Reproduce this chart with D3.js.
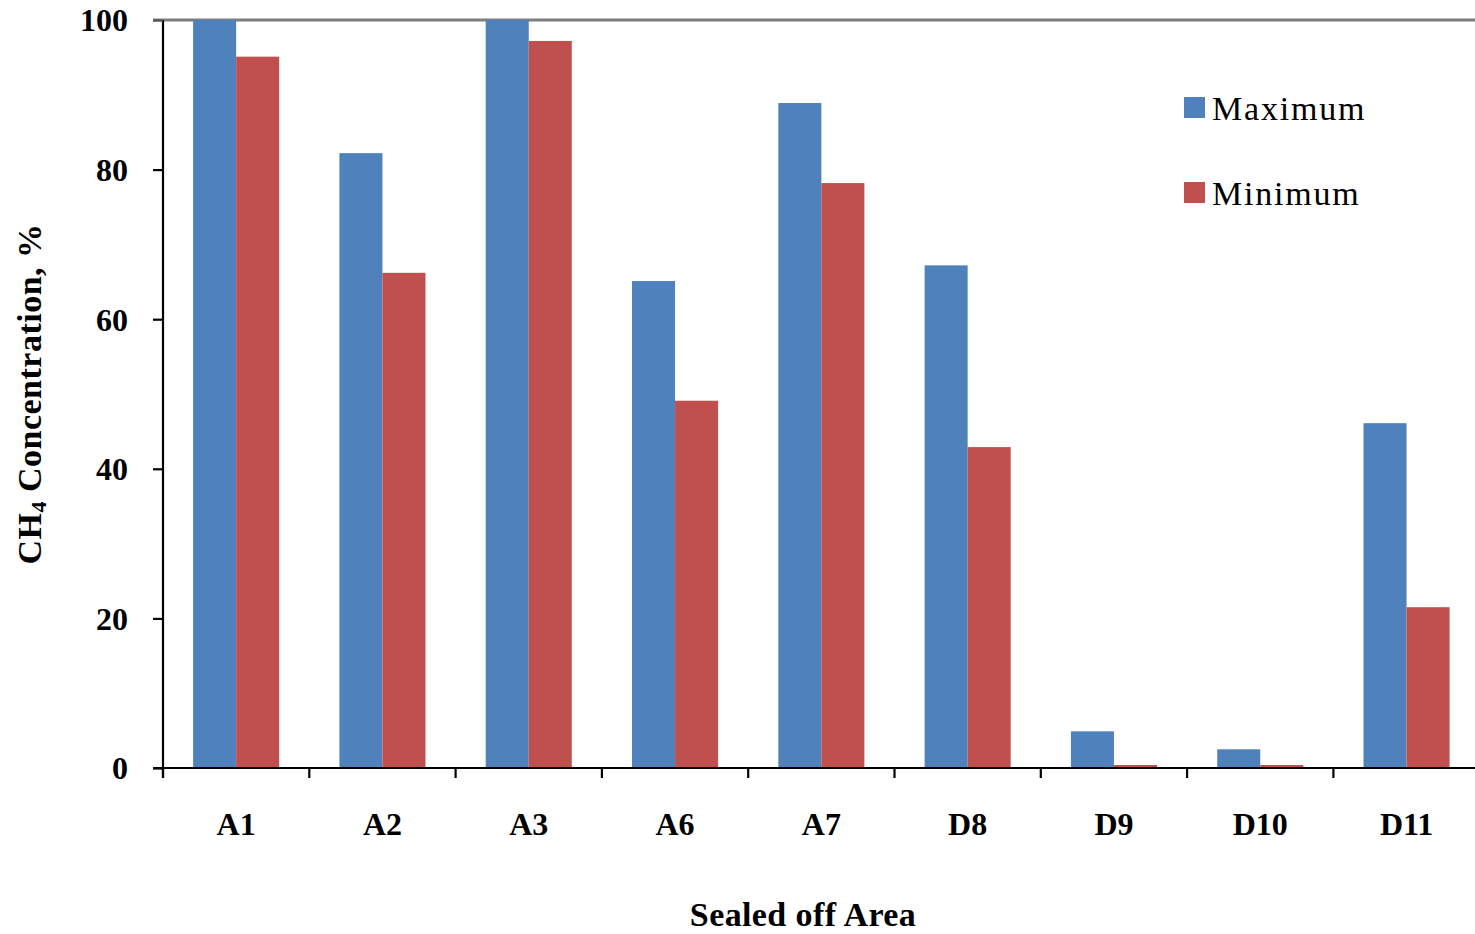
<!DOCTYPE html>
<html>
<head>
<meta charset="utf-8">
<script src="https://cdn.jsdelivr.net/npm/d3@7"></script>
<style>
  html, body { margin: 0; padding: 0; background: #fff; }
  svg { display: block; font-family: "Liberation Serif", "Times New Roman", serif; }
</style>
</head>
<body>
<svg id="chart" width="1475" height="934"></svg>
<script>
const categories = ["A1", "A2", "A3", "A6", "A7", "D8", "D9", "D10", "D11"];
const seriesNames = ["Maximum", "Minimum"];
const maximumValues = [100, 82.2, 100, 65.1, 88.9, 67.2, 4.9, 2.5, 46.1];
const minimumValues = [95.1, 66.2, 97.2, 49.1, 78.2, 42.9, 0.4, 0.4, 21.5];
const yTicks = [0, 20, 40, 60, 80, 100];
const colors = { Maximum: "#4F81BD", Minimum: "#C0504D" };

(function () {
const svg = d3.select("#chart");
const mLeft = 163, mTop = 20, mBottom = 768;
const step = 146.3;
const mRight = mLeft + step * categories.length;

const x0 = d3.scaleBand().domain(categories).range([mLeft, mRight]).paddingInner(0).paddingOuter(0);
const x1 = d3.scaleBand().domain(seriesNames).range([0, x0.bandwidth()]).paddingInner(0).paddingOuter(0.70);
const y = d3.scaleLinear().domain([0, 100]).range([mBottom, mTop]);

const data = categories.map((c, i) => ({
  cat: c,
  values: [
    { key: "Maximum", value: maximumValues[i] },
    { key: "Minimum", value: minimumValues[i] }
  ]
}));

// top gray line at 100
svg.append("line")
  .attr("x1", mLeft - 10).attr("x2", 1475)
  .attr("y1", y(100)).attr("y2", y(100))
  .attr("stroke", "#7f7f7f").attr("stroke-width", 3);

// bars
const g = svg.append("g");
g.selectAll("g.cat").data(data).join("g")
  .attr("class", "cat")
  .attr("transform", d => `translate(${x0(d.cat)},0)`)
  .selectAll("rect").data(d => d.values).join("rect")
  .attr("x", d => x1(d.key))
  .attr("width", x1.bandwidth())
  .attr("y", d => y(d.value))
  .attr("height", d => mBottom - y(d.value))
  .attr("fill", d => colors[d.key]);

// y axis
const yAxis = d3.axisLeft(y).tickValues(yTicks).tickSize(10).tickPadding(25).tickFormat(d3.format("d"));
const ya = svg.append("g").attr("transform", `translate(${mLeft},0)`).call(yAxis);
ya.select(".domain").attr("stroke", "#000").attr("stroke-width", 2.2).attr("d", `M0,${mTop}V${mBottom + 10}`);
ya.selectAll(".tick line").attr("stroke", "#000").attr("stroke-width", 2.2);
ya.selectAll(".tick").filter(d => d === 100).select("line").attr("stroke", "#555");
ya.selectAll(".tick text")
  .attr("font-family", "'Liberation Serif', 'Times New Roman', serif")
  .attr("font-size", 32).attr("font-weight", "bold").attr("fill", "#000")
  .attr("dy", "0.34em");

// x axis
const xAxis = d3.axisBottom(x0).tickSize(0).tickPadding(0);
const xa = svg.append("g").attr("transform", `translate(0,${mBottom})`).call(xAxis);
xa.select(".domain").attr("stroke", "#000").attr("stroke-width", 2.2).attr("d", `M${mLeft - 10},0H1475`);
xa.selectAll(".tick text")
  .attr("font-family", "'Liberation Serif', 'Times New Roman', serif")
  .attr("font-size", 32).attr("font-weight", "bold").attr("fill", "#000")
  .attr("y", 67).attr("dy", 0);
// category boundary ticks
xa.selectAll("line.sep").data(categories).join("line")
  .attr("class", "sep")
  .attr("x1", d => x0(d)).attr("x2", d => x0(d))
  .attr("y1", 0).attr("y2", 10)
  .attr("stroke", "#000").attr("stroke-width", 2.2);

// axis titles
svg.append("text")
  .attr("x", 803).attr("y", 926)
  .attr("text-anchor", "middle")
  .attr("font-size", 34).attr("font-weight", "bold").attr("fill", "#000")
  .attr("letter-spacing", 0.4)
  .text("Sealed off Area");

const yt = svg.append("text")
  .attr("transform", `translate(41,${(mTop + mBottom) / 2}) rotate(-90)`)
  .attr("text-anchor", "middle")
  .attr("font-size", 34).attr("font-weight", "bold").attr("fill", "#000")
  .attr("letter-spacing", 0.5);
yt.append("tspan").text("CH");
yt.append("tspan").attr("font-size", 22).attr("dy", 5).text("4");
yt.append("tspan").attr("dy", -5).text(" Concentration,  %");

// legend
const legend = svg.append("g");
const legendItems = [
  { key: "Maximum", y: 97 },
  { key: "Minimum", y: 182 }
];
legendItems.forEach(it => {
  legend.append("rect")
    .attr("x", 1184).attr("y", it.y).attr("width", 21).attr("height", 21)
    .attr("fill", colors[it.key]);
  legend.append("text")
    .attr("x", 1212).attr("y", it.y + 23)
    .attr("font-size", 34).attr("fill", "#000")
    .attr("letter-spacing", 1.8)
    .text(it.key);
});
})();
</script>
</body>
</html>
